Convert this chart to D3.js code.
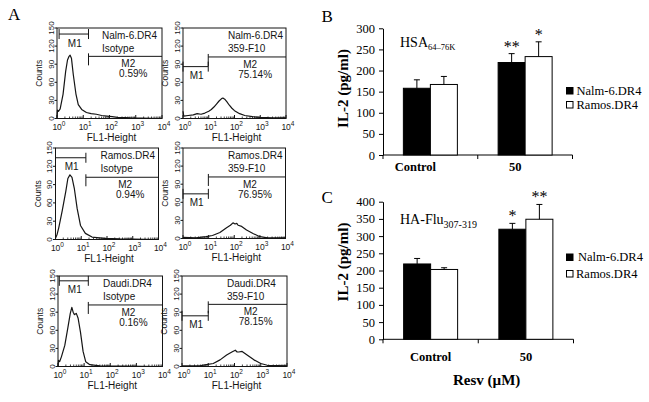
<!DOCTYPE html>
<html><head><meta charset="utf-8">
<script src="https://cdn.jsdelivr.net/npm/d3@7"></script>
<style>body{margin:0;background:#fff}svg{display:block}</style>
</head><body>
<svg id="c" width="649" height="402"></svg>
<script>
// ---------- Panel A: flow cytometry histograms (x = log10 decade, y = counts) ----------
const nalmIsotype = [[0,1],[0.02,14],[0.06,12],[0.12,16],[0.23,40],[0.33,78],[0.4,97],[0.46,103],[0.5,105],[0.55,100],[0.62,73],[0.72,41],[0.81,23],[0.94,15],[1.12,10],[1.3,8],[1.5,7],[1.7,5],[1.9,4],[2.1,3],[2.3,2],[2.6,1.5],[2.8,1],[3.2,0.5],[4.0,0]];
const nalm359F10 = [[0,12],[0.03,4],[0.2,5],[0.4,6],[0.55,8],[0.7,7],[0.85,9],[1.0,12],[1.1,15],[1.2,19],[1.3,24],[1.4,29],[1.5,33],[1.55,34],[1.62,32],[1.7,28],[1.8,22],[1.9,17],[2.0,13],[2.2,8],[2.4,5],[2.7,3],[3.0,2],[3.5,1],[4.0,1]];
const ramosIsotype = [[0,2],[0.06,8],[0.13,20],[0.26,47],[0.4,79],[0.48,100],[0.56,106],[0.6,104],[0.64,102],[0.73,84],[0.84,51],[0.97,23],[1.16,10],[1.42,4],[1.9,2],[2.5,1],[4.0,0]];
const ramos359F10 = [[0,2],[0.5,1],[0.9,3],[1.15,5],[1.44,10],[1.7,18],[1.85,22],[1.95,26],[2.03,24],[2.1,25],[2.15,22],[2.29,20],[2.48,14],[2.75,8],[3.0,3],[3.3,1],[4.0,1]];
const daudiIsotype = [[0,0],[0.02,10],[0.06,8],[0.13,16],[0.26,35],[0.38,65],[0.47,88],[0.53,98],[0.58,90],[0.63,86],[0.7,88],[0.77,80],[0.86,57],[0.96,25],[1.06,8],[1.22,3],[1.6,1],[2.5,0.5],[4.0,0]];
const daudi359F10 = [[0,1],[0.67,1],[0.93,3],[1.19,5],[1.45,11],[1.7,19],[1.9,24],[2.03,27],[2.1,24],[2.16,24],[2.29,25],[2.48,19],[2.74,11],[3.0,5],[3.25,2],[4.0,1]];

const cellLines = ["Nalm-6.DR4","Nalm-6.DR4","Ramos.DR4","Ramos.DR4","Daudi.DR4","Daudi.DR4"];
const stains = ["Isotype","359-F10","Isotype","359-F10","Isotype","359-F10"];
const m2Percents = ["0.59%","75.14%","0.94%","76.95%","0.16%","78.15%"];
const m1Start = [0.08,0,0,0,0.05,0];      // decades
const m1End = [1.2,0.98,1.18,0.99,1.16,1.0];
const m1Count = [140,86,134,74,142,84];
const m2Count = [103,102,102,102,102,103];
const countTicks = [0,30,60,90,120,150];
const decadeTicks = [0,1,2,3,4];

// ---------- Panels B and C: IL-2 bar charts ----------
const categories = ["Control","50"];
const seriesNames = ["Nalm-6.DR4","Ramos.DR4"];
const hsaNalm = [158,219];
const hsaRamos = [167,233];
const hsaNalmErr = [20,21];
const hsaRamosErr = [19,35];
const hsaStars = [["",""],["**","*"]];
const hsaTicks = [0,50,100,150,200,250,300];
const fluNalm = [219,320];
const fluRamos = [203,349];
const fluNalmErr = [16,17];
const fluRamosErr = [5,43];
const fluStars = [["",""],["*","**"]];
const fluTicks = [0,50,100,150,200,250,300,350,400];

const svg = d3.select("#c");
svg.append("rect").attr("width",649).attr("height",402).attr("fill","#fff");

const SANS = "'Liberation Sans', Arial, sans-serif";
const SERIF = "'Liberation Serif', 'Times New Roman', serif";
const INK = "#151515";

const flowData = [nalmIsotype, nalm359F10, ramosIsotype, ramos359F10, daudiIsotype, daudi359F10];
const flowLayout = [
  {l:57, r:162, t:28, b:118.5},
  {l:183, r:286, t:28, b:118.5},
  {l:55.5, r:158.5, t:148, b:239.5},
  {l:183, r:285.5, t:148, b:238.5},
  {l:58, r:162.5, t:276, b:366.5},
  {l:182, r:287, t:276, b:366.5}
];

function flowPanel(i){
  const L = flowLayout[i];
  const x = d3.scaleLog().domain([1,1e4]).range([L.l, L.r]);
  const y = d3.scaleLinear().domain([0,150]).range([L.b, L.t]);
  const g = svg.append("g").attr("font-family", SANS).attr("fill", INK);
  g.append("rect").attr("x",L.l).attr("y",L.t).attr("width",L.r-L.l).attr("height",L.b-L.t)
    .attr("fill","none").attr("stroke",INK).attr("stroke-width",1);
  // y ticks
  countTicks.forEach(v=>{
    g.append("line").attr("x1",L.l-2.5).attr("x2",L.l).attr("y1",y(v)).attr("y2",y(v)).attr("stroke",INK);
    g.append("text").attr("transform",`translate(${L.l-3.5},${y(v)}) rotate(-90)`)
      .attr("text-anchor","middle").attr("font-size",8).text(v);
  });
  g.append("text").attr("transform",`translate(${L.l-15},${(L.t+L.b)/2}) rotate(-90)`)
    .attr("text-anchor","middle").attr("font-size",8.5).text("Counts");
  // x ticks
  decadeTicks.forEach(e=>{
    const xv = x(Math.pow(10,e));
    g.append("line").attr("x1",xv).attr("x2",xv).attr("y1",L.b).attr("y2",L.b-3.5).attr("stroke",INK);
    const t = g.append("text").attr("x",xv-4.6).attr("y",L.b+11).attr("font-size",8.5);
    t.append("tspan").text("10");
    t.append("tspan").attr("dy",-4).attr("font-size",6.5).text(e);
    if(e<4){
      for(let k=2;k<=9;k++){
        const xm = x(k*Math.pow(10,e));
        g.append("line").attr("x1",xm).attr("x2",xm).attr("y1",L.b).attr("y2",L.b-2).attr("stroke",INK).attr("stroke-width",0.8);
      }
    }
  });
  g.append("text").attr("x",(L.l+L.r)/2+2).attr("y",L.b+22).attr("text-anchor","middle")
    .attr("font-size",10).text("FL1-Height");
  // histogram
  const line = d3.line().x(d=>x(Math.pow(10,d[0]))).y(d=>y(d[1]));
  g.append("path").datum(flowData[i]).attr("d",line).attr("fill","none")
    .attr("stroke",INK).attr("stroke-width",1.2).attr("stroke-linejoin","round");
  // gates
  const xa = x(Math.pow(10,m1Start[i])), xb = x(Math.pow(10,m1End[i])), xe = x(1e4);
  const ym1 = y(m1Count[i]), ym2 = y(m2Count[i]);
  g.append("line").attr("x1",xa).attr("x2",xb).attr("y1",ym1).attr("y2",ym1).attr("stroke",INK);
  g.append("line").attr("x1",xa).attr("x2",xa).attr("y1",ym1-5).attr("y2",ym1+5).attr("stroke",INK);
  g.append("line").attr("x1",xb).attr("x2",xb).attr("y1",ym1-5).attr("y2",ym1+5).attr("stroke",INK);
  g.append("line").attr("x1",xb).attr("x2",xe).attr("y1",ym2).attr("y2",ym2).attr("stroke",INK);
  g.append("line").attr("x1",xb).attr("x2",xb).attr("y1",ym2-3).attr("y2",ym2+9).attr("stroke",INK);
  g.append("text").attr("x",(xa+xb)/2+1).attr("y",ym1+12.5).attr("text-anchor","middle").attr("font-size",10).text("M1");
  g.append("text").attr("x",(xb+xe)/2+3).attr("y",ym2+10.7).attr("text-anchor","middle").attr("font-size",10).text("M2");
  g.append("text").attr("x",(xb+xe)/2+8).attr("y",ym2+20.7).attr("text-anchor","middle").attr("font-size",10).text(m2Percents[i]);
  g.append("text").attr("x",L.l+45).attr("y",L.t+11).attr("font-size",10).text(cellLines[i]);
  g.append("text").attr("x",L.l+45).attr("y",L.t+24).attr("font-size",10).text(stains[i]);
}
for(let i=0;i<6;i++) flowPanel(i);

// panel letters
svg.append("text").attr("x",8).attr("y",20).attr("font-family",SERIF).attr("font-size",17).text("A");
svg.append("text").attr("x",321.5).attr("y",21.7).attr("font-family",SERIF).attr("font-size",17).text("B");
svg.append("text").attr("x",321.5).attr("y",203).attr("font-family",SERIF).attr("font-size",17).text("C");

function barChart(o){
  const g = svg.append("g").attr("font-family", SERIF);
  const x0 = d3.scaleBand().domain(categories).range([o.left, o.right]);
  const bw = x0.bandwidth();
  const x1 = d3.scaleBand().domain(seriesNames).range([bw/2-27, bw/2+27]);
  const y = d3.scaleLinear().domain([0, o.max]).range([o.bottom, o.top]);
  const yAxis = d3.axisLeft(y).tickValues(o.ticks).tickSize(4).tickSizeOuter(0).tickPadding(4);
  const ya = g.append("g").attr("transform",`translate(${o.left},0)`).call(yAxis);
  ya.selectAll("text").attr("font-family",SERIF).attr("font-size",12.5).attr("fill","#000");
  ya.selectAll("line,path").attr("stroke","#000");
  // x axis line and boundary ticks
  g.append("line").attr("x1",o.left).attr("x2",o.right).attr("y1",o.bottom).attr("y2",o.bottom).attr("stroke","#000");
  [o.left, o.left+bw, o.right].forEach(xv=>{
    g.append("line").attr("x1",xv).attr("x2",xv).attr("y1",o.bottom).attr("y2",o.bottom+4).attr("stroke","#000");
  });
  const series = [
    {name:seriesNames[0], vals:o.nalm, errs:o.nalmErr, fill:"#000"},
    {name:seriesNames[1], vals:o.ramos, errs:o.ramosErr, fill:"#fff"}
  ];
  series.forEach((s,si)=>{
    categories.forEach((c,ci)=>{
      const bx = x0(c)+x1(s.name);
      const v = s.vals[ci];
      g.append("rect").attr("x",bx).attr("y",y(v)).attr("width",x1.bandwidth()).attr("height",y(0)-y(v))
        .attr("fill",s.fill).attr("stroke","#000").attr("stroke-width",1);
      const cx = bx + x1.bandwidth()/2;
      const et = y(v + s.errs[ci]);
      g.append("line").attr("x1",cx).attr("x2",cx).attr("y1",y(v)).attr("y2",et).attr("stroke","#000");
      g.append("line").attr("x1",cx-3).attr("x2",cx+3).attr("y1",et).attr("y2",et).attr("stroke","#000");
      const st = o.stars[ci][si];
      if(st) g.append("text").attr("x",cx).attr("y",et-2).attr("text-anchor","middle").attr("font-size",16).text(st);
    });
  });
  categories.forEach((c,ci)=>{
    g.append("text").attr("x",x0(c)+bw/2+o.labelShift[ci]).attr("y",o.bottom+o.labelDy)
      .attr("text-anchor","middle").attr("font-weight","bold").attr("font-size",12.5).text(c);
  });
  g.append("text").attr("transform",`translate(${o.titleX},${o.titleY}) rotate(-90)`)
    .attr("text-anchor","middle").attr("font-weight","bold").attr("font-size",15).text("IL-2 (pg/ml)");
  const lab = g.append("text").attr("x",400).attr("y",o.labelY).attr("font-size",14);
  lab.append("tspan").text(o.peptide);
  lab.append("tspan").attr("dy",3.5).attr("font-size",o.subSize).text(o.sub);
  // legend
  o.legend.forEach((L,li)=>{
    g.append("rect").attr("x",566.5).attr("y",L.sy).attr("width",6.5).attr("height",6.5)
      .attr("fill",series[li].fill).attr("stroke","#000").attr("stroke-width",1);
    g.append("text").attr("x",L.tx).attr("y",L.sy+7).attr("font-size",12.5).text(seriesNames[li]);
  });
}

barChart({left:383, right:572.5, top:28.3, bottom:155, max:300, ticks:hsaTicks,
  nalm:hsaNalm, ramos:hsaRamos, nalmErr:hsaNalmErr, ramosErr:hsaRamosErr, stars:hsaStars,
  labelShift:[-15,-10], labelDy:15.7, titleX:348, titleY:88.5, labelY:46.7,
  peptide:"HSA", sub:"64–76K", subSize:8.5,
  legend:[{sy:87.5, tx:576.5},{sy:101.5, tx:576.5}]});

barChart({left:383, right:573.5, top:201.7, bottom:339.3, max:400, ticks:fluTicks,
  nalm:fluNalm, ramos:fluRamos, nalmErr:fluNalmErr, ramosErr:fluRamosErr, stars:fluStars,
  labelShift:[0,0], labelDy:21.4, titleX:348, titleY:262, labelY:224,
  peptide:"HA-Flu", sub:"307-319", subSize:10,
  legend:[{sy:254, tx:578},{sy:270.5, tx:576}]});

svg.append("text").attr("x",486.7).attr("y",385).attr("text-anchor","middle")
  .attr("font-family",SERIF).attr("font-weight","bold").attr("font-size",15).text("Resv (µM)");
</script>
</body></html>
